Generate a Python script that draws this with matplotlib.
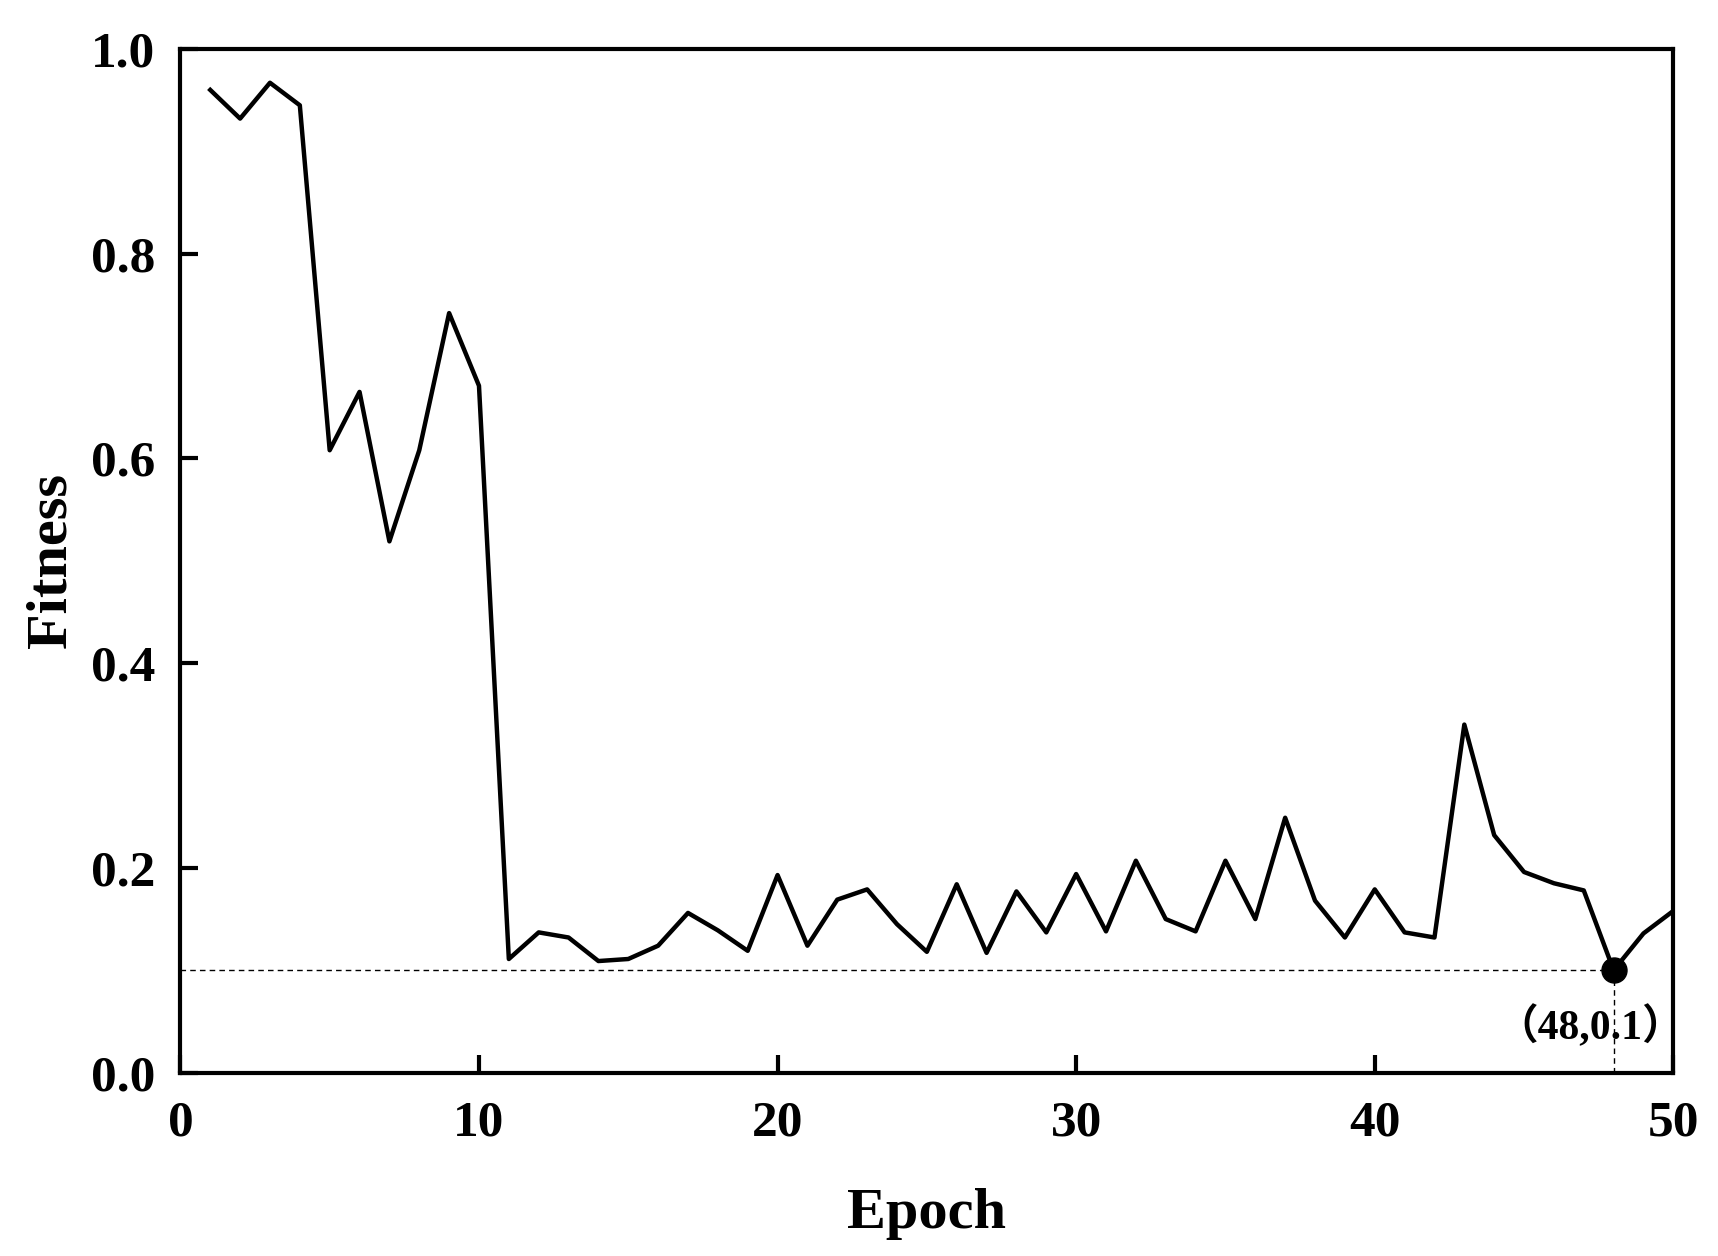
import numpy as np
import matplotlib
matplotlib.use("Agg")
import matplotlib.pyplot as plt

epochs = list(range(1, 51))
fitness = [0.960, 0.932, 0.967, 0.945, 0.608, 0.665, 0.519, 0.608, 0.742, 0.671,
           0.111, 0.137, 0.132, 0.109, 0.111, 0.124, 0.156, 0.139, 0.119, 0.193,
           0.124, 0.169, 0.179, 0.145, 0.118, 0.184, 0.117, 0.177, 0.137, 0.194,
           0.138, 0.207, 0.150, 0.138, 0.207, 0.150, 0.249, 0.168, 0.132, 0.179,
           0.137, 0.132, 0.340, 0.232, 0.196, 0.185, 0.178, 0.100, 0.136, 0.158]
best_epoch = 48
best_value = 0.1
best_label = "（48,0.1）"

plt.rcParams['font.family'] = ['Liberation Serif', 'Noto Sans CJK SC']
plt.rcParams['font.weight'] = 'bold'

fig = plt.figure(figsize=(17.18, 12.56), dpi=100)
ax = fig.add_axes([0.105, 0.146, 0.869, 0.815])

ax.plot(epochs, fitness, color='black', linewidth=3.2, zorder=3)
ax.plot([0, best_epoch], [best_value, best_value], color='black', linestyle='--',
        linewidth=1.0, dashes=(4, 3), zorder=2)
ax.plot([best_epoch, best_epoch], [0, best_value], color='black', linestyle='--',
        linewidth=1.0, dashes=(4, 3), zorder=2)
ax.plot([best_epoch], [best_value], 'o', color='black', markersize=18, zorder=4)
ax.text(47.2, 0.045, best_label, ha='center', va='center', fontsize=30,
        fontweight='bold')

ax.set_xlim(0, 50)
ax.set_ylim(0, 1.0)
ax.set_xticks([0, 10, 20, 30, 40, 50])
ax.set_yticks([0.0, 0.2, 0.4, 0.6, 0.8, 1.0])
ax.set_yticklabels(['0.0', '0.2', '0.4', '0.6', '0.8', '1.0'])

ax.tick_params(direction='in', length=13, width=3, labelsize=37, pad=18)
ax.tick_params(axis='x', pad=20)
for s in ax.spines.values():
    s.set_linewidth(3)

ax.set_xlabel('Epoch', fontsize=42, fontweight='bold', labelpad=30)
ax.set_ylabel('Fitness', fontsize=42, fontweight='bold', labelpad=10)

fig.savefig('out.png', dpi=100)
